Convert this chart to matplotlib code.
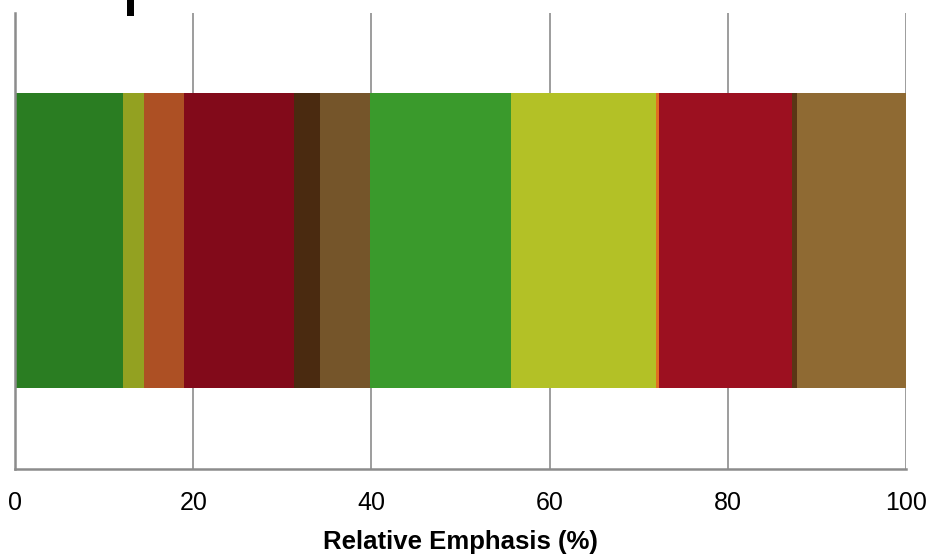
import matplotlib.pyplot as plt
from matplotlib.patches import Rectangle

plt.rcParams['font.family'] = ['Liberation Sans', 'DejaVu Sans']

# segment widths (% of total), left to right
widths = [12.12, 2.36, 4.49, 12.35, 2.92, 5.61, 15.82, 16.27, 0.34, 14.93, 0.56, 12.23]
colors = ['#2a7d22', '#93a121', '#ad5024', '#820a1a', '#4a2a10', '#75552a',
          '#3a9a2c', '#b3c126', '#e07020', '#9c1020', '#5a3515', '#8f6a33']
ticks = [0, 20, 40, 60, 80, 100]
xlabel = 'Relative Emphasis (%)'

fig = plt.figure(figsize=(9.3, 5.54), dpi=100)
ax = fig.add_axes([15 / 930, 1 - 469 / 554, 891 / 930, 456 / 554])

left = 0
for w, c in zip(widths, colors):
    ax.barh(0.501, w, left=left, height=0.647, color=c, linewidth=0, zorder=3)
    left += w

ax.set_xlim(0, 100)
ax.set_ylim(0, 1)
ax.set_xticks(ticks)
ax.set_xticklabels([str(t) for t in ticks], fontsize=18)
ax.set_yticks([])
ax.tick_params(axis='x', length=0, pad=16)
ax.grid(axis='x', color='#8c8c8c', linewidth=1.2, zorder=0)
for s in ['top', 'right']:
    ax.spines[s].set_visible(False)
for s in ['left', 'bottom']:
    ax.spines[s].set_color('#8c8c8c')
    ax.spines[s].set_linewidth(1.8)
    ax.spines[s].set_zorder(4)
ax.set_xlabel(xlabel, fontsize=18.5, fontweight='bold', labelpad=11)

# clipped glyph at the top edge
fig.add_artist(Rectangle((127 / 930, 1 - 16 / 554), 7 / 930, 16 / 554,
                         transform=fig.transFigure, color='black', linewidth=0))

fig.savefig('out.png', dpi=100)
